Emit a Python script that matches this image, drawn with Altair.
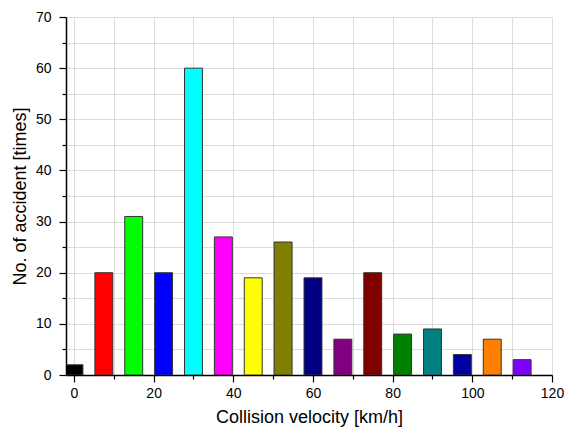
import altair as alt
import pandas as pd

speeds = [0, 7.5, 15, 22.5, 30, 37.5, 45, 52.5, 60, 67.5, 75, 82.5, 90, 97.5, 105, 112.5]
counts = [2, 20, 31, 20, 60, 27, 19, 26, 19, 7, 20, 8, 9, 4, 7, 3]
colors = ["#000000", "#FF0000", "#00FF00", "#0000FF", "#00FFFF", "#FF00FF", "#FFFF00",
          "#808000", "#000080", "#800080", "#800000", "#008000", "#008080", "#0000A0",
          "#FF8000", "#8000FF"]
half_width = 2.25

df = pd.DataFrame({"speed": speeds, "count": counts, "color": colors})
df["x0"] = df["speed"] - half_width
df["x1"] = df["speed"] + half_width

FONT = "Liberation Sans"

x_axis = alt.Axis(
    values=list(range(0, 130, 10)),
    labelExpr="datum.value % 20 === 0 ? datum.label : ''",
    tickSize={"condition": {"test": "datum.value % 20 === 0", "value": 7}, "value": 4},
    gridOpacity={"condition": {"test": "datum.value >= 120", "value": 0}, "value": 1},
    title="Collision velocity [km/h]",
    grid=True, gridColor="#dcdcdc", gridWidth=1,
    domainColor="#000000", domainWidth=1.5,
    tickColor="#000000", tickWidth=1.2,
    labelFont=FONT, labelFontSize=14, labelColor="#000000", labelPadding=4,
    titleFont=FONT, titleFontSize=18, titleFontWeight="normal", titleColor="#000000",
    titlePadding=8, labelFlush=False,
)
y_axis = alt.Axis(
    values=list(range(0, 75, 5)),
    labelExpr="datum.value % 10 === 0 ? datum.label : ''",
    tickSize={"condition": {"test": "datum.value % 10 === 0", "value": 7}, "value": 4},
    gridOpacity={"condition": {"test": "datum.value >= 70", "value": 0}, "value": 1},
    title="No. of accident [times]",
    grid=True, gridColor="#dcdcdc", gridWidth=1,
    domainColor="#000000", domainWidth=1.5,
    tickColor="#000000", tickWidth=1.2,
    labelFont=FONT, labelFontSize=14, labelColor="#000000", labelPadding=8,
    titleFont=FONT, titleFontSize=18, titleFontWeight="normal", titleColor="#000000",
    titlePadding=6, labelFlush=False,
)

chart = alt.Chart(df).mark_bar(stroke="#333333", strokeWidth=1, clip=True).encode(
    x=alt.X("x0:Q", scale=alt.Scale(domain=[-2, 120], nice=False, zero=False), axis=x_axis),
    x2="x1:Q",
    y=alt.Y("count:Q", scale=alt.Scale(domain=[0, 70], nice=False), axis=y_axis),
    y2=alt.datum(0),
    color=alt.Color("color:N", scale=None),
).properties(
    width=486, height=358,
    autosize=alt.AutoSizeParams(type="none"),
    padding={"left": 58, "top": 9, "right": 12, "bottom": 53},
).configure_view(stroke=None).configure(background="white")

chart.save("out.html", embed_options={"renderer": "svg", "actions": False})
